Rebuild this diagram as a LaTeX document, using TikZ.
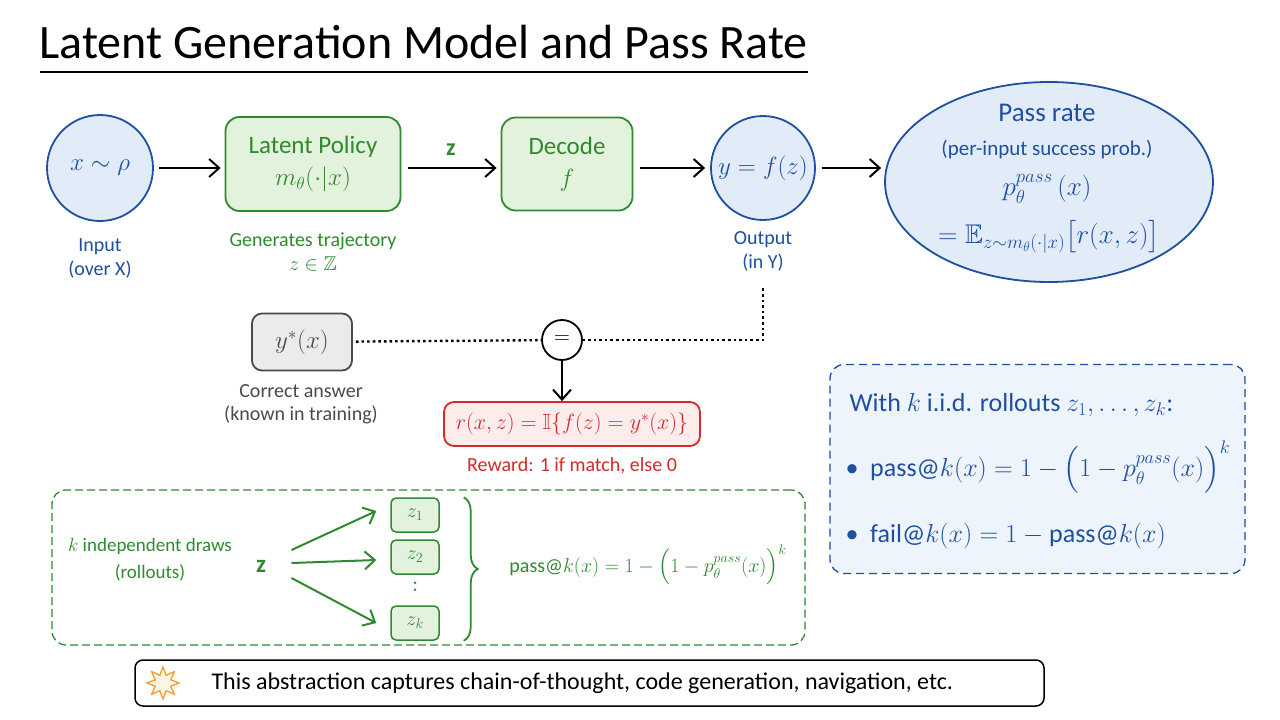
\RequirePackage{fix-cm}
\documentclass[tikz,border=0pt]{standalone}
\usepackage{amsmath,amssymb}
\usepackage{fontspec}
\setmainfont{Carlito}
\usepackage{tikz}
\usetikzlibrary{arrows.meta,positioning,calc,shapes.geometric,decorations.pathreplacing}

\definecolor{inkblue}{HTML}{1E4FA0}
\definecolor{fillblue}{HTML}{E2ECF9}
\definecolor{inkgreen}{HTML}{2F8A2F}
\definecolor{fillgreen}{HTML}{E3F2DC}
\definecolor{inkred}{HTML}{D42A2A}
\definecolor{fillred}{HTML}{FDECEC}
\definecolor{inkgray}{HTML}{4A4A4A}
\definecolor{fillgray}{HTML}{EBEBEB}
\definecolor{starorange}{HTML}{F0A030}
\newcommand{\fsz}[2]{\fontsize{#1}{#2}\selectfont}

\begin{document}
\begin{tikzpicture}[x=1pt,y=-1pt,>={Straight Barb[length=10pt,width=18pt]},
  bluecirc/.style={circle,draw=inkblue,fill=fillblue,line width=1.8pt,minimum size=106pt,font=\fsz{25}{30},text=inkblue},
  greenbox/.style={draw=inkgreen,fill=fillgreen,line width=1.8pt,rounded corners=14pt,font=\fsz{25}{32},text=inkgreen,align=center},
  zbox/.style={draw=inkgreen,fill=fillgreen,line width=1.5pt,rounded corners=5pt,minimum width=48pt,minimum height=34pt,text=inkgreen,font=\fsz{20}{24}},
  bluelbl/.style={text=inkblue,font=\fsz{20}{24},align=center},
  greenlbl/.style={text=inkgreen,font=\fsz{20}{24},align=center},
  flow/.style={->,line width=2pt},
  fan/.style={->,inkgreen,line width=2pt},
  match/.style={line width=2.4pt,dash pattern=on 2.6pt off 3pt},
  drawsbox/.style={draw=inkgreen,line width=1.3pt,dash pattern=on 8pt off 4pt,rounded corners=14pt},
  iidbox/.style={draw=inkblue,fill=fillblue!60,line width=1.3pt,dash pattern=on 8pt off 5pt,rounded corners=14pt},
  iidtext/.style={anchor=west,text=inkblue,font=\fsz{26}{30}}]
\fill[white] (0,0) rectangle (1280,720);
\useasboundingbox (0,0) rectangle (1280,720);

\node[anchor=west,font=\fsz{48}{52}] (ttl) at (36,42) {Latent Generation Model and Pass Rate};
\draw[line width=2pt] (40,72) -- (808,72);

\node[bluecirc] (inp) at (100,168) {$x\sim\rho$};
\node[bluelbl] (inplbl) at (100,258) {Input\\(over X)};
\node[greenbox,minimum width=175pt,minimum height=94pt] (pol) at (313,164) {Latent Policy\\$m_\theta(\cdot|x)$};
\node[greenlbl] (pollbl) at (313,252) {Generates trajectory\\$z\in\mathbb{Z}$};
\node[greenbox,minimum width=131pt,minimum height=93pt] (dec) at (567,164) {Decode\\$f$};
\node[bluecirc,minimum size=104pt] (outc) at (763,168) {$y=f(z)$};
\node[bluelbl] (outlbl) at (763,251) {Output\\(in Y)};

\node[ellipse,draw=inkblue,fill=fillblue,line width=1.8pt,minimum width=328pt,minimum height=200pt] (pr) at (1049,182) {};
\node[text=inkblue,font=\fsz{27}{30}] (prt) at (1047,113) {Pass rate};
\node[bluelbl,font=\fsz{21}{24}] (prs) at (1047,150) {(per-input success prob.)};
\node[text=inkblue,font=\fsz{27}{30},inner sep=0pt] (prp) at (1047,189) {$p_\theta^{pass}\,(x)$};
\node[text=inkblue,font=\fsz{27}{30},inner sep=0pt] (pre) at (1049,237) {$=\mathbb{E}_{z\sim m_\theta(\cdot|x)}\big[r(x,z)\big]$};

\draw[flow,shorten <=5pt,shorten >=4pt] (inp) -- (inp -| pol.west);
\draw[flow,shorten <=7pt,shorten >=4pt] (pol.east |- inp) -- node[above=8pt,text=inkgreen,font=\bfseries\fsz{24}{26}] (zlbl) {z} (inp -| dec.west);
\draw[flow,shorten <=7pt,shorten >=5pt] (dec.east |- inp) -- (outc);
\draw[flow,shorten <=6pt,shorten >=3pt] (outc) -- (outc -| pr.west);

\node[draw=inkgray,fill=fillgray,line width=1.8pt,rounded corners=10pt,minimum width=100pt,minimum height=57pt,font=\fsz{25}{30},text=inkgray] (ystar) at (302,342) {$y^*(x)$};
\node[text=inkgray,font=\fsz{20}{23},align=center] (ystarlbl) at (301,404) {Correct answer\\(known in training)};
\node[circle,draw,line width=1.8pt,minimum size=40pt,inner sep=0pt,fill=white,font=\fsz{22}{26}] (eq) at (562,340) {$=$};
\node[draw=inkred,fill=fillred,line width=1.8pt,rounded corners=10pt,minimum width=256pt,minimum height=44pt,text=inkred,font=\fsz{22}{26}] (rw) at (572,424) {$r(x,z)=\mathbb{I}\{f(z)=y^*(x)\}$};
\node[text=inkred,font=\fsz{20}{24}] (rwlbl) at (572,466) {Reward: 1 if match, else 0};

\draw[match,shorten <=3pt] (ystar) -- (eq);
\draw[match,shorten <=14pt] (outlbl.south) |- (eq);
\draw[flow] (eq) -- (eq |- rw.north);

\node[drawsbox,minimum width=753pt,minimum height=155pt] (draws) at (428.5,567.5) {};
\node[greenlbl,font=\fsz{19}{27}] (kdl) at (150,560) {$k$ independent draws\\(rollouts)};
\node[text=inkgreen,font=\bfseries\fsz{25}{28}] (zsrc) at (261,566) {z};
\node[zbox] (z1) at (415,515) {$z_1$};
\node[zbox] (z2) at (415,557) {$z_2$};
\node[zbox] (zk) at (415,623) {$z_k$};
\draw[inkgreen,line width=2.6pt,line cap=round,dash pattern=on 0pt off 7pt] ([yshift=-8pt]z2.south) -- ([yshift=8.5pt]zk.north);
\draw[fan] ([shift={(22,-16)}]zsrc.east) -- ([shift={(-14,-4)}]z1.west);
\draw[fan] ([shift={(22,-3)}]zsrc.east) -- ([shift={(-14,3)}]z2.west);
\draw[fan] ([shift={(22,12)}]zsrc.east) -- ([shift={(-14,0)}]zk.west);
\draw[inkgreen,line width=1.8pt,decorate,decoration={brace,amplitude=14pt}] ([xshift=24pt]z1.north east) -- ([xshift=24pt]zk.south east);
\node[text=inkgreen,font=\fsz{20}{24}] (pk) at (648,565) {$\text{pass@}k(x)=1-\Big(1-p_\theta^{pass}(x)\Big)^k$};

\node[iidbox,minimum width=415pt,minimum height=209pt] (iid) at (1037.5,469) {};
\node[iidtext] (iidt) at (846,405) {With $k$ i.i.d. rollouts $z_1,\dots,z_k$:};
\node[iidtext] (b1) at (842,467) {\textbullet\ \ $\text{pass@}k(x)=1-\Big(1-p_\theta^{pass}(x)\Big)^k$};
\node[iidtext] (b2) at (842,536) {\textbullet\ \ $\text{fail@}k(x)=1-\text{pass@}k(x)$};

\node[draw,line width=1.5pt,rounded corners=8pt,minimum width=909pt,minimum height=46pt] (note) at (589.5,683) {};
\node[star,star points=8,star point ratio=1.9,draw=starorange,fill=starorange!12,line width=1.3pt,minimum size=32pt,inner sep=0pt] (staricon) at (163,683) {};
\node[anchor=west,font=\fsz{24}{28}] (notetxt) at (208,683) {This abstraction captures chain-of-thought, code generation, navigation, etc.};
\end{tikzpicture}
\end{document}
